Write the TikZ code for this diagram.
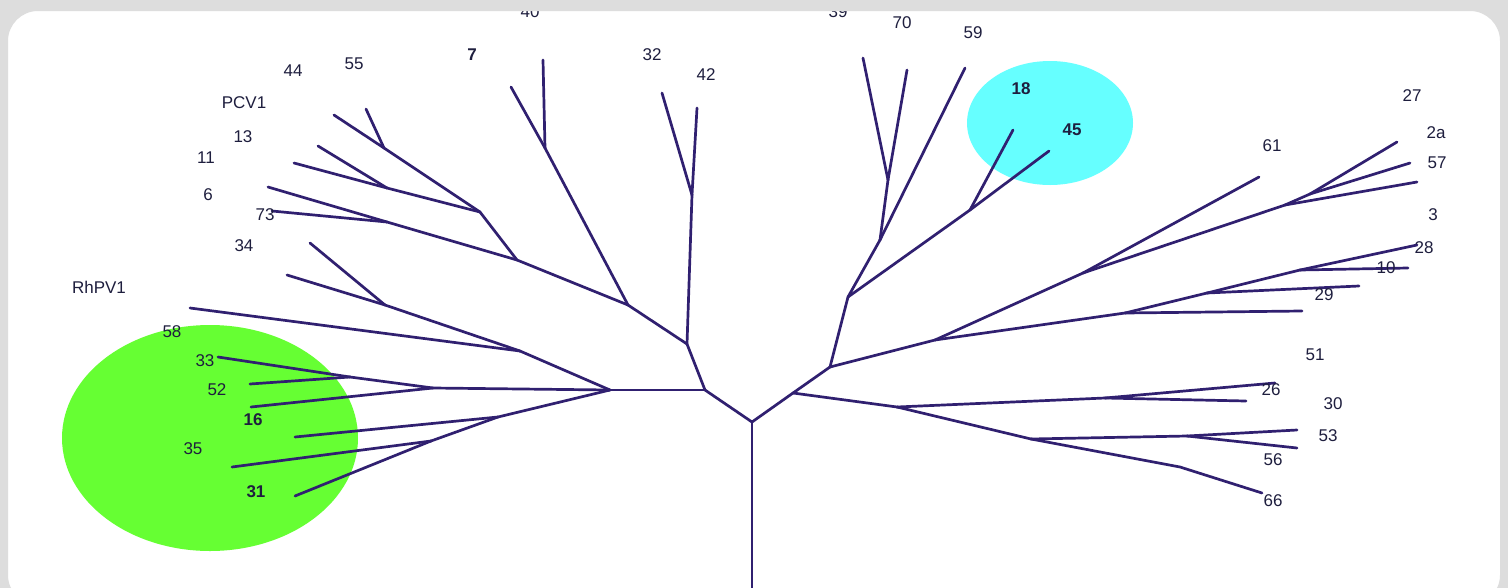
\documentclass[tikz,border=0pt]{standalone}
\usepackage{fontspec}
\setmainfont{Liberation Sans}
\definecolor{frame}{RGB}{221,221,221}
\definecolor{branch}{RGB}{48,32,112}
\definecolor{lbl}{RGB}{30,30,62}
\definecolor{grn}{RGB}{102,255,51}
\definecolor{cyn}{RGB}{102,255,255}
\tikzset{
  br/.style={draw=branch,line width=2.7pt,line cap=round,line join=round},
  lab/.style={text=lbl,font=\fontsize{17}{17}\selectfont,inner sep=0pt,anchor=center},
  blab/.style={lab,font=\fontsize{17}{17}\selectfont\bfseries}
}
\begin{document}
\begin{tikzpicture}[x=1pt,y=-1pt]
\useasboundingbox (0,0) rectangle (1508,587);
\clip (0,0) rectangle (1508,587);
\fill[white] (0,0) rectangle (1508,587);
% highlight ellipses
\fill[grn] (210,438) ellipse [x radius=148,y radius=113];
\fill[cyn] (1050,123) ellipse [x radius=83,y radius=62];
% coordinates
\coordinate (root) at (752,422); \coordinate (base) at (752,590);
\coordinate (A) at (705,390); \coordinate (B) at (793,393);
\coordinate (C) at (610,390); \coordinate (D) at (687,344);
\coordinate (E) at (692,195); \coordinate (t42) at (697,108); \coordinate (t32) at (662,93);
\coordinate (F) at (628,305); \coordinate (G) at (545,148); \coordinate (t40) at (543,60); \coordinate (t7) at (511,87);
\coordinate (H) at (517,260); \coordinate (I) at (480,212); \coordinate (J) at (384,148);
\coordinate (t55) at (366,109); \coordinate (t44) at (334,115);
\coordinate (K) at (387,188); \coordinate (t13) at (318,146); \coordinate (tPCV) at (294,163);
\coordinate (M) at (387,222); \coordinate (t6) at (268,187); \coordinate (t73) at (272,211);
\coordinate (N) at (520,351); \coordinate (O) at (385,305); \coordinate (t34a) at (310,243); \coordinate (t34b) at (287,275);
\coordinate (tRh) at (190,308);
\coordinate (P) at (433,388); \coordinate (Q) at (350,377); \coordinate (t33) at (218,357); \coordinate (t52) at (250,384); \coordinate (t16) at (251,407);
\coordinate (R) at (498,417); \coordinate (t35a) at (295,437); \coordinate (S) at (431,441); \coordinate (t35b) at (232,467); \coordinate (t31) at (295,496);
\coordinate (T) at (830,367); \coordinate (U) at (897,407);
\coordinate (V) at (848,297); \coordinate (X) at (880,240); \coordinate (Z) at (888,180);
\coordinate (t39) at (863,58); \coordinate (t70) at (907,70); \coordinate (t59) at (965,68);
\coordinate (Y) at (970,210); \coordinate (t18) at (1013,130); \coordinate (t45) at (1049,151);
\coordinate (W) at (935,340); \coordinate (AA) at (1083,273); \coordinate (t61) at (1259,177);
\coordinate (AC) at (1285,205); \coordinate (AD) at (1310,194);
\coordinate (t2a) at (1397,142); \coordinate (t57) at (1410,163); \coordinate (t3) at (1417,182);
\coordinate (AB) at (1125,313); \coordinate (AE) at (1207,293); \coordinate (AF) at (1300,270);
\coordinate (t28) at (1417,245); \coordinate (t10) at (1408,268); \coordinate (t29) at (1359,286); \coordinate (t29b) at (1302,311);
\coordinate (AG) at (1105,398); \coordinate (t26) at (1275,383); \coordinate (t26b) at (1246,401);
\coordinate (AH) at (1031,439); \coordinate (AI) at (1187,436); \coordinate (t53) at (1297,430); \coordinate (t56) at (1297,448);
\coordinate (bend) at (1180,467); \coordinate (t66) at (1262,493);
% branches
\draw[br] (base) -- (root);
\draw[br] (root) -- (A); \draw[br] (root) -- (B);
\draw[br] (A) -- (C); \draw[br] (A) -- (D);
\draw[br] (D) -- (E); \draw[br] (E) -- (t42); \draw[br] (E) -- (t32);
\draw[br] (D) -- (F); \draw[br] (F) -- (G); \draw[br] (G) -- (t40); \draw[br] (G) -- (t7);
\draw[br] (F) -- (H); \draw[br] (H) -- (I); \draw[br] (I) -- (J); \draw[br] (J) -- (t55); \draw[br] (J) -- (t44);
\draw[br] (I) -- (K); \draw[br] (K) -- (t13); \draw[br] (K) -- (tPCV);
\draw[br] (H) -- (M); \draw[br] (M) -- (t6); \draw[br] (M) -- (t73);
\draw[br] (C) -- (N); \draw[br] (N) -- (O); \draw[br] (O) -- (t34a); \draw[br] (O) -- (t34b); \draw[br] (N) -- (tRh);
\draw[br] (C) -- (P); \draw[br] (P) -- (Q); \draw[br] (Q) -- (t33); \draw[br] (Q) -- (t52); \draw[br] (P) -- (t16);
\draw[br] (C) -- (R); \draw[br] (R) -- (t35a); \draw[br] (R) -- (S); \draw[br] (S) -- (t35b); \draw[br] (S) -- (t31);
\draw[br] (B) -- (T); \draw[br] (B) -- (U);
\draw[br] (T) -- (V); \draw[br] (V) -- (X); \draw[br] (X) -- (Z); \draw[br] (Z) -- (t39); \draw[br] (Z) -- (t70); \draw[br] (X) -- (t59);
\draw[br] (V) -- (Y); \draw[br] (Y) -- (t18); \draw[br] (Y) -- (t45);
\draw[br] (T) -- (W); \draw[br] (W) -- (AA); \draw[br] (AA) -- (t61); \draw[br] (AA) -- (AC);
\draw[br] (AC) -- (AD); \draw[br] (AD) -- (t2a); \draw[br] (AD) -- (t57); \draw[br] (AC) -- (t3);
\draw[br] (W) -- (AB); \draw[br] (AB) -- (AE); \draw[br] (AE) -- (AF); \draw[br] (AF) -- (t28); \draw[br] (AF) -- (t10);
\draw[br] (AE) -- (t29); \draw[br] (AB) -- (t29b);
\draw[br] (U) -- (AG); \draw[br] (AG) -- (t26); \draw[br] (AG) -- (t26b);
\draw[br] (U) -- (AH); \draw[br] (AH) -- (AI); \draw[br] (AI) -- (t53); \draw[br] (AI) -- (t56);
\draw[br] (AH) -- (bend) -- (t66);
% labels
\node[lab] (l40) at (530,12) {40};
\node[lab] (l39) at (838,12) {39};
\node[blab] (l7) at (472,55) {7};
\node[lab] (l32) at (652,55) {32};
\node[lab] (l42) at (706,75) {42};
\node[lab] (l44) at (293,71) {44};
\node[lab] (l55) at (354,64) {55};
\node[lab] (lPCV) at (244,103) {PCV1};
\node[lab] (l13) at (243,137) {13};
\node[lab] (l11) at (206,158) {11};
\node[lab] (l6) at (208,195) {6};
\node[lab] (l73) at (265,215) {73};
\node[lab] (l34) at (244,246) {34};
\node[lab] (lRh) at (99,287) {RhPV1};
\node[lab] (l58) at (172,332) {58};
\node[lab] (l33) at (205,361) {33};
\node[lab] (l52) at (217,390) {52};
\node[blab] (l16) at (253,420) {16};
\node[lab] (l35) at (193,449) {35};
\node[blab] (l31) at (256,492) {31};
\node[lab] (l70) at (902,23) {70};
\node[lab] (l59) at (973,33) {59};
\node[blab] (l18) at (1021,89) {18};
\node[blab] (l45) at (1072,130) {45};
\node[lab] (l27) at (1412,96) {27};
\node[lab] (l2a) at (1436,133) {2a};
\node[lab] (l57) at (1437,163) {57};
\node[lab] (l61) at (1272,146) {61};
\node[lab] (l3) at (1433,215) {3};
\node[lab] (l28) at (1424,248) {28};
\node[lab] (l10) at (1386,268) {10};
\node[lab] (l29) at (1324,295) {29};
\node[lab] (l51) at (1315,355) {51};
\node[lab] (l26) at (1271,390) {26};
\node[lab] (l30) at (1333,404) {30};
\node[lab] (l53) at (1328,436) {53};
\node[lab] (l56) at (1273,460) {56};
\node[lab] (l66) at (1273,501) {66};
% outer frame with rounded inner panel
\fill[frame,even odd rule] (-5,-5) rectangle (1513,592)
  [rounded corners=30pt] (8,11) rectangle (1500,605);
\end{tikzpicture}
\end{document}
